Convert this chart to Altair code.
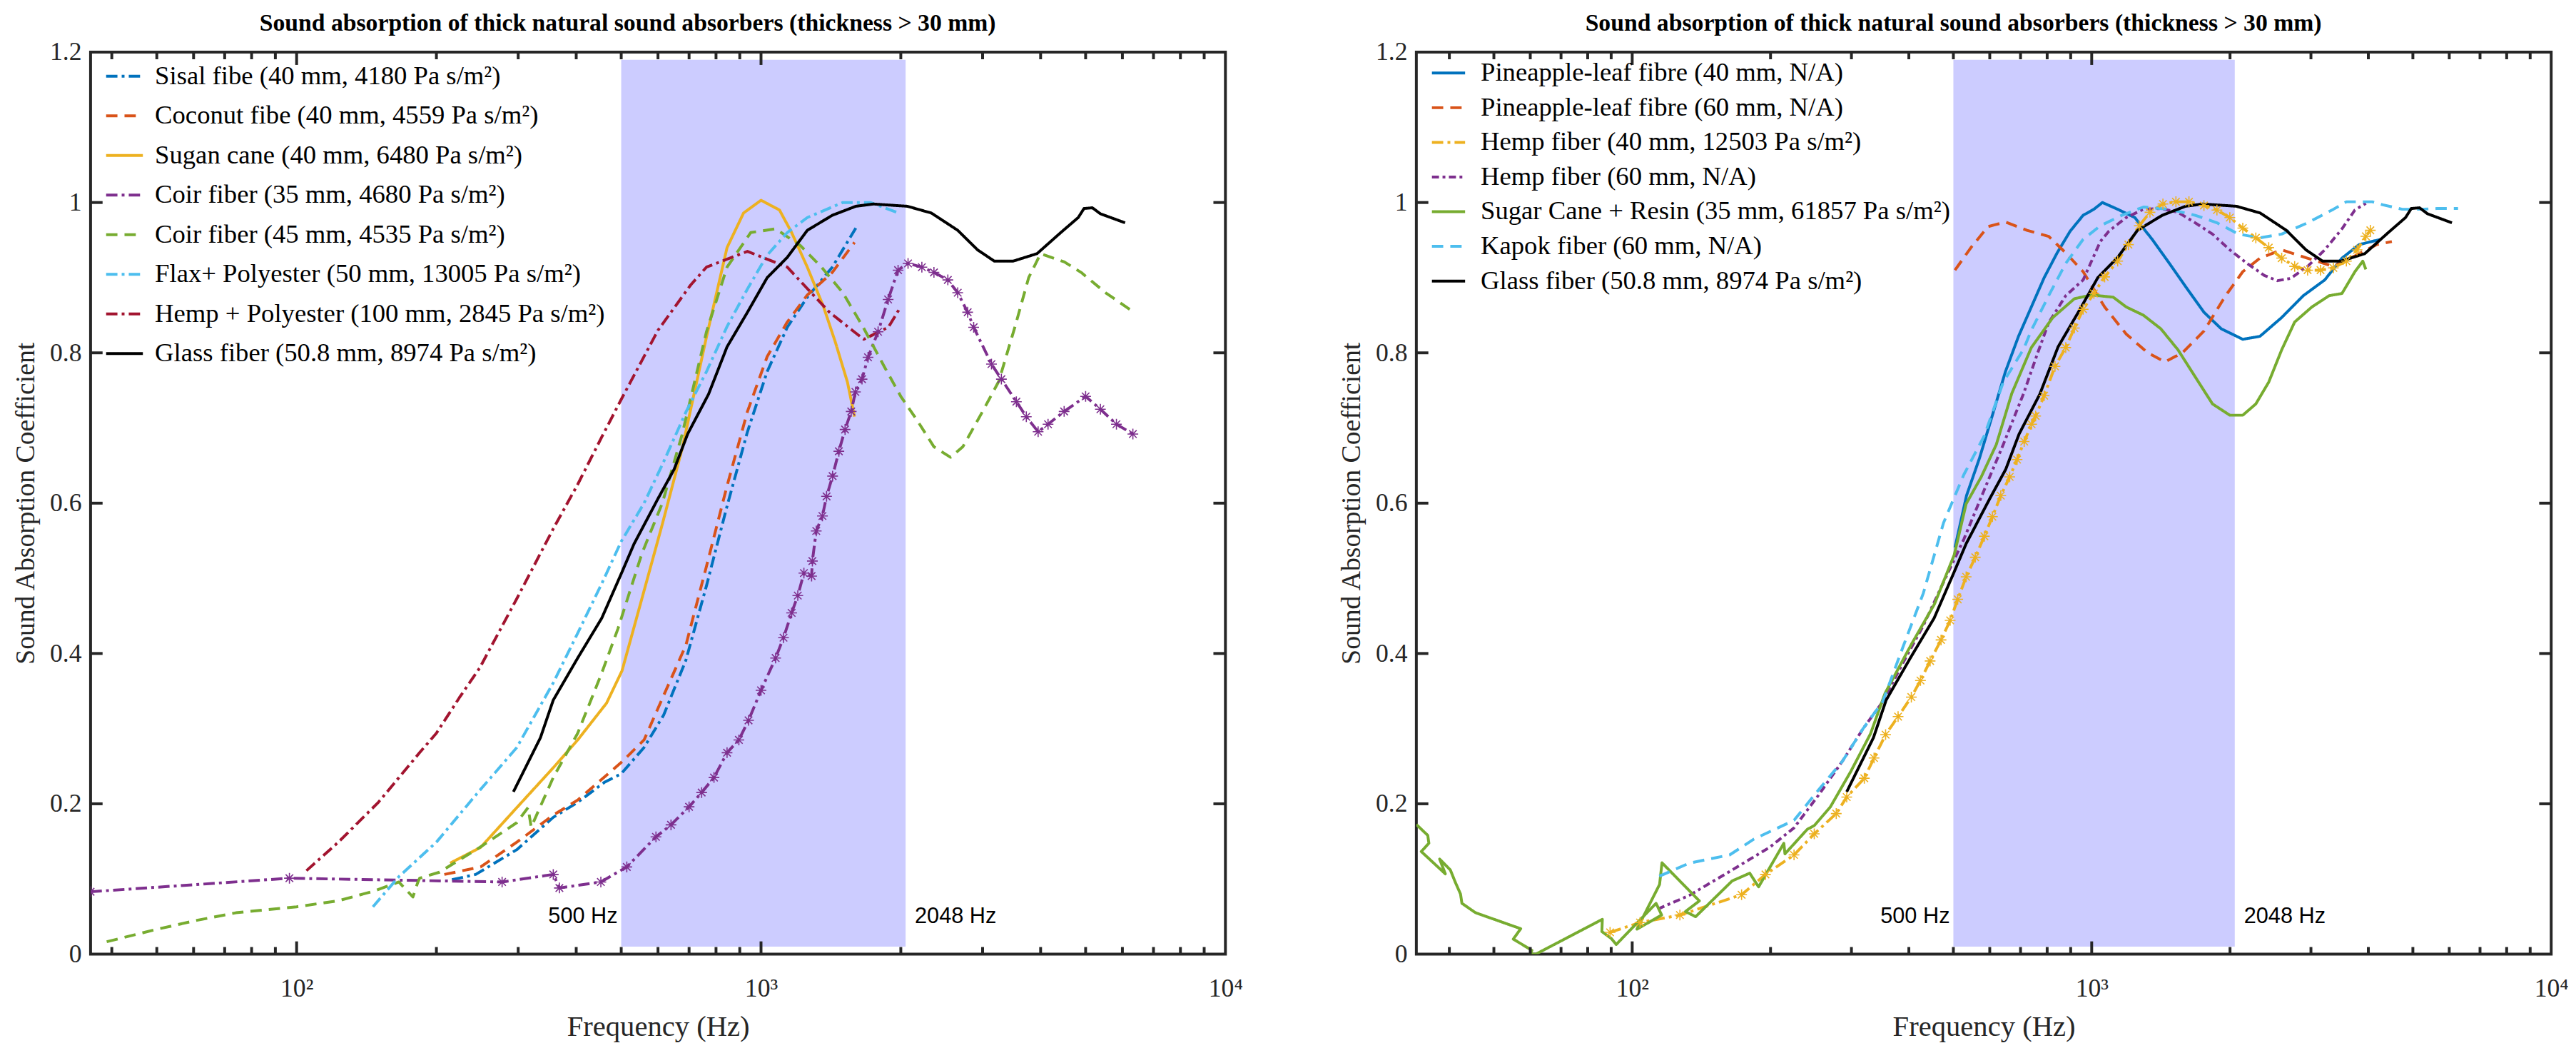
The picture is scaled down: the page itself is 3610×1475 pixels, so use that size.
import altair as alt
import pandas as pd

# ---------------- data ----------------
# Left panel
sisal_f = [216, 243, 298, 357, 403, 461, 500, 560, 617, 689, 763, 845, 935, 1031, 1139, 1258, 1424, 1600]
sisal_a = [0.099, 0.106, 0.139, 0.182, 0.202, 0.229, 0.240, 0.275, 0.318, 0.391, 0.490, 0.596, 0.695, 0.775, 0.834, 0.874, 0.914, 0.966]

coconut_f = [208, 249, 298, 357, 403, 500, 560, 617, 689, 763, 845, 935, 1031, 1139, 1258, 1424, 1590]
coconut_a = [0.106, 0.116, 0.149, 0.185, 0.205, 0.255, 0.285, 0.344, 0.411, 0.516, 0.623, 0.722, 0.795, 0.841, 0.877, 0.907, 0.947]

sugan_f = [214, 249, 298, 357, 403, 465, 502, 554, 613, 676, 763, 845, 917, 1000, 1096, 1164, 1258, 1364, 1446, 1535, 1590]
sugan_a = [0.121, 0.142, 0.195, 0.248, 0.285, 0.334, 0.377, 0.473, 0.572, 0.672, 0.821, 0.940, 0.986, 1.003, 0.990, 0.960, 0.914, 0.861, 0.814, 0.761, 0.715]

coir35_f = [36, 96.5, 277, 357, 368, 452, 514, 594, 640, 700, 745, 792, 845, 896, 940, 1000, 1075, 1118,
            1164, 1200, 1237, 1285, 1290, 1315, 1356, 1384, 1426, 1471, 1517, 1564, 1597, 1650, 1700, 1787,
            1878, 1973, 2073, 2220, 2357, 2525, 2652, 2786, 2870, 3135, 3293, 3547, 3726, 3951, 4150, 4495,
            5000, 5380, 5825, 6320]
coir35_a = [0.083, 0.101, 0.096, 0.106, 0.088, 0.096, 0.116, 0.156, 0.172, 0.196, 0.215, 0.235, 0.268, 0.285,
            0.311, 0.351, 0.394, 0.421, 0.454, 0.477, 0.507, 0.503, 0.523, 0.563, 0.583, 0.609, 0.636, 0.669,
            0.698, 0.722, 0.748, 0.765, 0.794, 0.828, 0.871, 0.910, 0.919, 0.914, 0.907, 0.897, 0.880, 0.854,
            0.834, 0.785, 0.765, 0.735, 0.715, 0.695, 0.705, 0.722, 0.742, 0.725, 0.705, 0.692]

coir45_f = [39, 50, 61, 74, 100, 123, 147, 166, 178, 182, 184, 203, 248, 298, 315, 320, 357, 403, 454, 492,
            554, 613, 676, 763, 845, 950, 1075, 1214, 1350, 1500, 1660, 1845, 2000, 2180, 2357, 2560, 2720,
            3000, 3250, 3520, 3770, 4000, 4500, 4890, 5520, 6250]
coir45_a = [0.0165, 0.033, 0.045, 0.055, 0.063, 0.071, 0.084, 0.096, 0.076, 0.094, 0.101, 0.109, 0.142, 0.175,
            0.195, 0.169, 0.235, 0.294, 0.374, 0.433, 0.533, 0.600, 0.691, 0.828, 0.914, 0.960, 0.965, 0.943,
            0.914, 0.880, 0.834, 0.781, 0.742, 0.708, 0.675, 0.661, 0.675, 0.722, 0.762, 0.834, 0.900, 0.932,
            0.921, 0.907, 0.880, 0.857]

flax_f = [146, 166, 200, 248, 298, 357, 403, 454, 500, 560, 617, 690, 763, 845, 935, 1031, 1139, 1258, 1500, 1720, 1980]
flax_a = [0.063, 0.103, 0.149, 0.218, 0.275, 0.361, 0.427, 0.493, 0.549, 0.600, 0.655, 0.722, 0.775, 0.835,
          0.885, 0.930, 0.960, 0.980, 1.000, 1.000, 0.986]

hemppoly_f = [105, 123, 150, 184, 200, 224, 248, 298, 357, 403, 454, 500, 600, 705, 763, 935, 1139, 1404, 1664, 1880, 1980]
hemppoly_a = [0.111, 0.149, 0.202, 0.268, 0.294, 0.341, 0.381, 0.473, 0.566, 0.625, 0.688, 0.738, 0.830, 0.890,
              0.914, 0.935, 0.914, 0.854, 0.818, 0.834, 0.857]

glass_f = [293, 335, 357, 403, 454, 500, 533, 600, 650, 695, 771, 845, 935, 1031, 1139, 1258, 1424, 1600, 1745,
           2066, 2327, 2652, 2926, 3180, 3490, 3930, 4420, 4820, 4960, 5170, 5380, 6080]
glass_a = [0.216, 0.288, 0.338, 0.394, 0.447, 0.506, 0.546, 0.606, 0.645, 0.692, 0.745, 0.808, 0.854, 0.900,
           0.927, 0.963, 0.983, 0.995, 0.998, 0.995, 0.986, 0.963, 0.937, 0.922, 0.922, 0.932, 0.960, 0.980,
           0.992, 0.993, 0.985, 0.973]

# Right panel
pine40_f = [504, 534, 570, 608, 649, 693, 739, 788, 841, 898, 958, 1011, 1055, 1139, 1241, 1354, 1476, 1610,
            1755, 1914, 2132, 2324, 2591, 2887, 3215, 3505, 3820, 4254]
pine40_a = [0.541, 0.610, 0.660, 0.717, 0.775, 0.822, 0.861, 0.900, 0.933, 0.962, 0.983, 0.991, 1.000, 0.991,
            0.980, 0.951, 0.919, 0.886, 0.854, 0.832, 0.818, 0.822, 0.847, 0.876, 0.897, 0.926, 0.944, 0.951]

pine60_f = [504, 546, 595, 649, 723, 806, 878, 958, 1067, 1189, 1324, 1444, 1575, 1755, 1956, 2132, 2324, 2591,
            2946, 3357, 3740, 4170, 4500]
pine60_a = [0.910, 0.940, 0.968, 0.974, 0.963, 0.955, 0.933, 0.908, 0.861, 0.825, 0.800, 0.788, 0.800, 0.829,
            0.876, 0.908, 0.926, 0.937, 0.926, 0.915, 0.929, 0.944, 0.948]

hemp40_f = [89.5, 104, 127, 173, 195, 225, 249, 278, 293, 320, 336, 356, 379, 405, 424, 445, 470, 492, 511, 533,
            558, 584, 608, 634, 663, 688, 713, 740, 755, 788, 832, 878, 917, 958, 1011, 1067, 1139, 1202, 1269,
            1339, 1429, 1525, 1628, 1755, 1873, 1998, 2132, 2276, 2428, 2591, 2765, 2950, 3148, 3357, 3583,
            3780, 3950, 4040]
hemp40_a = [0.029, 0.042, 0.052, 0.079, 0.106, 0.132, 0.160, 0.187, 0.209, 0.234, 0.261, 0.292, 0.316, 0.342,
            0.364, 0.390, 0.418, 0.444, 0.472, 0.502, 0.528, 0.556, 0.582, 0.610, 0.635, 0.658, 0.682, 0.705,
            0.716, 0.743, 0.782, 0.807, 0.833, 0.858, 0.879, 0.901, 0.922, 0.944, 0.969, 0.987, 0.998, 1.001,
            1.001, 0.996, 0.990, 0.980, 0.966, 0.953, 0.940, 0.926, 0.915, 0.910, 0.910, 0.913, 0.922, 0.937,
            0.955, 0.963]

hemp60_f = [113.7, 133, 163, 199, 225, 254, 287, 318, 351, 388, 430, 476, 527, 583, 642, 711, 763, 806, 878, 958,
            1044, 1090, 1189, 1296, 1414, 1541, 1680, 1832, 1998, 2178, 2375, 2537, 2709, 2950, 3215, 3505,
            3740, 3950]
hemp60_a = [0.060, 0.078, 0.110, 0.142, 0.168, 0.211, 0.257, 0.300, 0.336, 0.387, 0.437, 0.495, 0.552, 0.617,
            0.678, 0.746, 0.800, 0.840, 0.876, 0.897, 0.948, 0.962, 0.980, 0.991, 0.992, 0.987, 0.973, 0.958,
            0.937, 0.919, 0.903, 0.896, 0.899, 0.915, 0.937, 0.965, 0.990, 0.999]

sugar_f = [33.9, 35.9, 36.1, 34.75, 39.2, 38.1, 40.2, 41.2, 42.3, 42.6, 45.6, 57.2, 55.1, 60.5, 60.0, 61.7,
           86.1, 85.9, 90.1, 92.3, 112.7, 115.9, 102.4, 114.7, 116.1, 140, 130.6, 137.4, 165, 180.2, 188.4,
           213.8, 215, 240.4, 249, 270, 299, 330, 355, 405, 455, 502, 533, 575, 620, 670, 739, 823, 917, 1000,
           1114, 1189, 1296, 1414, 1541, 1680, 1832, 1998, 2132, 2276, 2428, 2591, 2765, 3014, 3286, 3505,
           3740, 3890, 3950]
sugar_a = [0.1725, 0.158, 0.1475, 0.1365, 0.1068, 0.1265, 0.112, 0.0958, 0.080, 0.0676, 0.0551, 0.0338, 0.020,
           0.005, 0.0, 0.0, 0.0463, 0.030, 0.0207, 0.0128, 0.0676, 0.052, 0.0332, 0.0927, 0.1215, 0.0708,
           0.0567, 0.0498, 0.0974, 0.1077, 0.0895, 0.1475, 0.1334, 0.166, 0.171, 0.196, 0.243, 0.293, 0.347,
           0.412, 0.466, 0.531, 0.599, 0.635, 0.678, 0.746, 0.807, 0.847, 0.872, 0.877, 0.874, 0.861, 0.850,
           0.832, 0.804, 0.768, 0.732, 0.717, 0.717, 0.732, 0.761, 0.804, 0.841, 0.861, 0.876, 0.879, 0.908,
           0.922, 0.911]

kapok_f = [114.5, 133, 163, 184, 225, 254, 287, 318, 351, 388, 430, 476, 527, 583, 642, 711, 739, 806, 878, 958,
           1044, 1163, 1296, 1476, 1680, 1873, 2087, 2324, 2591, 2950, 3357, 3583, 4080, 4300, 4740, 5170,
           5640, 6270]
kapok_a = [0.1036, 0.121, 0.132, 0.153, 0.178, 0.218, 0.257, 0.300, 0.336, 0.408, 0.480, 0.574, 0.638, 0.689,
           0.761, 0.805, 0.830, 0.876, 0.919, 0.951, 0.969, 0.983, 0.994, 0.991, 0.983, 0.973, 0.958, 0.953,
           0.958, 0.973, 0.991, 1.001, 1.001, 0.997, 0.991, 0.991, 0.992, 0.992]

# Names
left_names = [
    "Sisal fibe (40 mm, 4180 Pa s/m²)",
    "Coconut fibe (40 mm, 4559 Pa s/m²)",
    "Sugan cane (40 mm, 6480 Pa s/m²)",
    "Coir fiber (35 mm, 4680 Pa s/m²)",
    "Coir fiber (45 mm, 4535 Pa s/m²)",
    "Flax+ Polyester (50 mm, 13005 Pa s/m²)",
    "Hemp + Polyester (100 mm, 2845 Pa s/m²)",
    "Glass fiber (50.8 mm, 8974 Pa s/m²)",
]
right_names = [
    "Pineapple-leaf fibre (40 mm, N/A)",
    "Pineapple-leaf fibre (60 mm, N/A)",
    "Hemp fiber (40 mm, 12503 Pa s/m²)",
    "Hemp fiber (60 mm, N/A)",
    "Sugar Cane + Resin (35 mm, 61857 Pa s/m²)",
    "Kapok fiber (60 mm, N/A)",
    "Glass fiber (50.8 mm, 8974 Pa s/m²)",
]

band_f = [500]
band_f2 = [2048]
band_a = [0.01]
band_a2 = [1.19]
note_f = [500, 2048]
note_a = [0.05, 0.05]
note_text = ["500 Hz", "2048 Hz"]

x_label_values = [100, 1000, 10000]
x_label_texts = ["10²", "10³", "10⁴"]
x_major_ticks = [100, 1000]
x_minor_ticks = [40, 50, 60, 70, 80, 90, 200, 300, 400, 500, 600, 700, 800, 900,
                 2000, 3000, 4000, 5000, 6000, 7000, 8000, 9000]
y_tick_values = [0, 0.2, 0.4, 0.6, 0.8, 1.0, 1.2]
y_inner_ticks = [0.2, 0.4, 0.6, 0.8, 1.0]

title_text = "Sound absorption of thick natural sound absorbers (thickness > 30 mm)"

# ---------------- styling ----------------
SERIF = "Liberation Serif"
SANS = "Liberation Sans"
AX = "#262626"
W, H = 1605, 1275
BLUE, ORANGE, YELLOW, PURPLE = "#0072BD", "#D95319", "#EDB120", "#7E2F8E"
GREEN, LBLUE, DRED, BLACK = "#77AC30", "#4DBEEE", "#A2142F", "#000000"
SOLID = [1, 0]
DASH = [16, 10]
DASHDOT = [16, 6, 4, 6]
ASTERISK = "M-1,0L1,0M0,-1L0,1M-0.7,-0.7L0.7,0.7M-0.7,0.7L0.7,-0.7"

label_expr = " : ".join(
    [f"abs(datum.value - {v}) < 1 ? '{t}'" for v, t in zip(x_label_values[:-1], x_label_texts[:-1])]
) + f" : '{x_label_texts[-1]}'"


def make_df(names, fs_list, as_list):
    rows = []
    for name, fs, as_ in zip(names, fs_list, as_list):
        assert len(fs) == len(as_), name
        for i, (f, a) in enumerate(zip(fs, as_)):
            rows.append({"series": name, "f": f, "a": a, "i": i})
    return pd.DataFrame(rows)


def panel(names, fs_list, as_list, colors, dashes, widths, xmin, marker_f, marker_a, marker_color,
          sym_size, row_pad, leg_y, label_offset):
    df = make_df(names, fs_list, as_list)
    xs = alt.Scale(type="log", domain=[xmin, 10000], nice=False)
    ys = alt.Scale(domain=[0, 1.2], nice=False, zero=False)
    xaxis = alt.Axis(values=x_label_values, labelExpr=label_expr, ticks=False, tickSize=0, domain=False,
                     grid=False, labelFont=SERIF, labelFontSize=36, labelColor=AX, labelPadding=32,
                     labelFlush=False, labelOverlap=False, title="Frequency (Hz)", titleFont=SERIF,
                     titleFontSize=41, titleFontWeight="normal", titleColor=AX, titlePadding=16)
    yaxis = alt.Axis(values=y_tick_values, format="~g", ticks=False, tickSize=0, domain=False, grid=False,
                     labelFont=SERIF, labelFontSize=36, labelColor=AX, labelPadding=13, labelOverlap=False,
                     labelFlush=False,
                     title="Sound Absorption Coefficient", titleFont=SERIF, titleFontSize=38,
                     titleFontWeight="normal", titleColor=AX, titlePadding=14)
    X = alt.X("f:Q", scale=xs, axis=xaxis)
    Y = alt.Y("a:Q", scale=ys, axis=yaxis)

    leg = alt.Legend(orient="none", legendX=20, legendY=leg_y, symbolType="stroke", symbolSize=sym_size,
                     labelFont=SERIF, labelFontSize=37, labelColor="black", rowPadding=row_pad,
                     labelLimit=3000, labelOffset=label_offset, padding=0)

    band = alt.Chart(pd.DataFrame({"f": band_f, "f2": band_f2, "a": band_a, "a2": band_a2})).mark_rect(
        color="#CCCCFF", opacity=1).encode(x=X, x2="f2:Q", y=Y, y2="a2:Q")

    lines = alt.Chart(df).mark_line(clip=True, strokeCap="butt", strokeJoin="round").encode(
        x=X, y=Y,
        color=alt.Color("series:N", scale=alt.Scale(domain=names, range=colors), legend=leg, title=None),
        strokeDash=alt.StrokeDash("series:N", scale=alt.Scale(domain=names, range=dashes), legend=leg,
                                  title=None),
        strokeWidth=alt.StrokeWidth("series:N", scale=alt.Scale(domain=names, range=widths), legend=leg,
                                    title=None),
        order="i:Q",
    )

    markers = alt.Chart(pd.DataFrame({"f": marker_f, "a": marker_a})).mark_point(
        shape=ASTERISK, filled=False, size=230, strokeWidth=1.6, color=marker_color, opacity=1, clip=True
    ).encode(x=X, y=Y)

    notes = pd.DataFrame({"f": note_f, "a": note_a, "t": note_text})
    note_l = alt.Chart(notes.iloc[[0]]).mark_text(font=SANS, fontSize=31, align="right", baseline="middle",
                                                  dx=-5, color="black").encode(x=X, y=Y, text="t:N")
    note_r = alt.Chart(notes.iloc[[1]]).mark_text(font=SANS, fontSize=31, align="left", baseline="middle",
                                                  dx=13, color="black").encode(x=X, y=Y, text="t:N")

    xmaj = pd.DataFrame({"f": x_major_ticks})
    xmin_df = pd.DataFrame({"f": [t for t in x_minor_ticks if t > xmin]})
    yt = pd.DataFrame({"a": y_inner_ticks})
    rule = dict(color=AX, strokeWidth=4)
    ticks = [
        alt.Chart(xmaj).mark_rule(**rule).encode(x=X, y=alt.value(H), y2=alt.value(H - 18)),
        alt.Chart(xmaj).mark_rule(**rule).encode(x=X, y=alt.value(0), y2=alt.value(18)),
        alt.Chart(xmin_df).mark_rule(**rule).encode(x=X, y=alt.value(H), y2=alt.value(H - 10)),
        alt.Chart(xmin_df).mark_rule(**rule).encode(x=X, y=alt.value(0), y2=alt.value(10)),
        alt.Chart(yt).mark_rule(**rule).encode(y=Y, x=alt.value(0), x2=alt.value(17)),
        alt.Chart(yt).mark_rule(**rule).encode(y=Y, x=alt.value(W), x2=alt.value(W - 17)),
    ]

    return alt.layer(band, lines, markers, note_l, note_r, *ticks).properties(
        width=W, height=H,
        title=alt.TitleParams(title_text, font=SERIF, fontSize=34, fontWeight="bold", color="black",
                              anchor="middle", frame="bounds", offset=5),
    )


left = panel(
    left_names,
    [sisal_f, coconut_f, sugan_f, coir35_f, coir45_f, flax_f, hemppoly_f, glass_f],
    [sisal_a, coconut_a, sugan_a, coir35_a, coir45_a, flax_a, hemppoly_a, glass_a],
    [BLUE, ORANGE, YELLOW, PURPLE, GREEN, LBLUE, DRED, BLACK],
    [DASHDOT, DASH, SOLID, DASHDOT, DASH, DASHDOT, DASHDOT, SOLID],
    [4, 4, 4, 2, 4, 4, 4, 4.5],
    36, coir35_f, coir35_a, PURPLE,
    2700, 10, 6, 15,
)
right = panel(
    right_names,
    [pine40_f, pine60_f, hemp40_f, hemp60_f, sugar_f, kapok_f, glass_f],
    [pine40_a, pine60_a, hemp40_a, hemp60_a, sugar_a, kapok_a, glass_a],
    [BLUE, ORANGE, YELLOW, PURPLE, GREEN, LBLUE, BLACK],
    [SOLID, DASH, DASHDOT, [10, 5, 4, 5], SOLID, DASH, SOLID],
    [4, 4, 2, 4, 4, 4, 4.5],
    33.9, hemp40_f, hemp40_a, YELLOW,
    2200, 5, 4, 20,
)

chart = alt.hconcat(left, right, spacing=131).resolve_scale(
    color="independent", strokeDash="independent", strokeWidth="independent"
).resolve_legend(
    color="independent", strokeDash="independent", strokeWidth="independent"
).properties(
    padding={"left": 8, "top": 0, "right": 0, "bottom": 0}, background="white"
).configure_view(stroke=AX, strokeWidth=4).configure_legend(
    labelFont=SERIF, labelFontSize=37
).configure_axis(labelFont=SERIF, titleFont=SERIF)

chart.save("out.html", embed_options={"renderer": "svg", "actions": False})
